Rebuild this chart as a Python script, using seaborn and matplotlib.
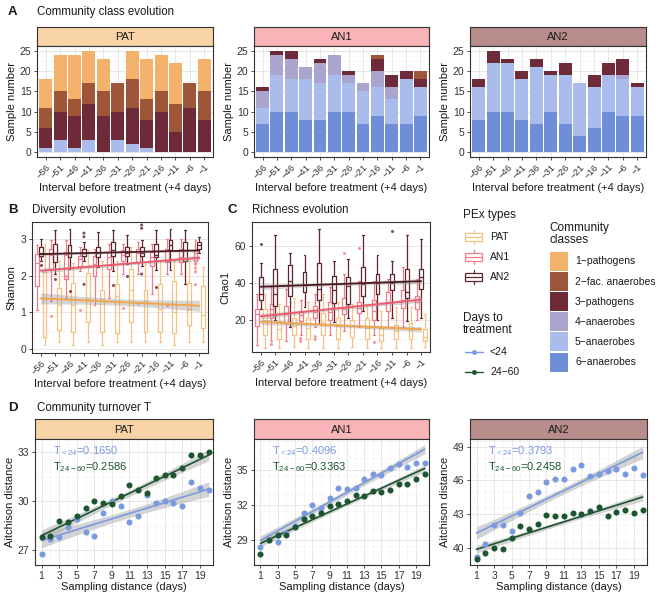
import numpy as np
import pandas as pd
import seaborn as sns
import matplotlib.pyplot as plt
from matplotlib.patches import Rectangle
from matplotlib.ticker import MultipleLocator

sns.set_style("white")
plt.rcParams['font.family'] = ['Liberation Sans', 'DejaVu Sans']
plt.rcParams['mathtext.default'] = 'regular'

# ---------------- data ----------------
intervals = [-56, -51, -46, -41, -36, -31, -26, -21, -16, -11, -6, -1]
interval_labels = ["\u2212" + str(abs(v)) for v in intervals]
pex_types = ['PAT', 'AN1', 'AN2']
classes = ['1\u2212pathogens', '2\u2212fac. anaerobes', '3\u2212pathogens',
           '4\u2212anaerobes', '5\u2212anaerobes', '6\u2212anaerobes']
class_colors = ['#F2B26B', '#9E5638', '#6E2A38', '#AAA5CF', '#A9BCEC', '#6E8ED8']

# sample counts per community class (rows = classes 1..6)
pat_counts = [[7, 9, 11, 8, 8, 0, 7, 10, 9, 10, 0, 8],
              [5, 5, 4, 5, 6, 7, 7, 5, 5, 7, 6, 7],
              [5, 7, 8, 9, 9, 7, 9, 7, 10, 5, 11, 8],
              [0, 0, 0, 0, 0, 0, 0, 0, 0, 0, 0, 0],
              [1, 3, 1, 3, 0, 3, 2, 1, 0, 0, 0, 0],
              [0, 0, 0, 0, 0, 0, 0, 0, 0, 0, 0, 0]]
an1_counts = [[0, 0, 0, 0, 0, 0, 0, 0, 0, 0, 0, 0],
              [0, 0, 0, 0, 0, 0, 0, 0, 1, 0, 0, 2],
              [1, 1, 2, 0, 1, 0, 1, 0, 3, 3, 2, 2],
              [4, 5, 5, 3, 5, 5, 2, 2, 4, 3, 0, 0],
              [4, 9, 8, 10, 9, 9, 7, 8, 7, 6, 11, 7],
              [7, 10, 10, 8, 8, 10, 10, 7, 9, 7, 7, 9]]
an2_counts = [[0, 0, 0, 0, 0, 0, 0, 0, 0, 0, 0, 0],
              [0, 0, 0, 0, 0, 0, 0, 0, 0, 0, 0, 0],
              [2, 3, 1, 2, 2, 1, 3, 0, 3, 3, 4, 1],
              [0, 0, 0, 0, 0, 0, 0, 0, 0, 0, 1, 0],
              [8, 12, 12, 10, 14, 9, 12, 13, 10, 9, 9, 7],
              [8, 10, 10, 8, 7, 10, 7, 4, 6, 10, 9, 9]]

# Shannon box stats: whisker low, q1, median, q3, whisker high
sh_an1 = [[1.07, 1.30, 1.40, 2.13, 1.21, 1.40, 2.05, 2.05, 1.49, 2.05, 2.05, 2.35],
          [1.72, 2.17, 1.90, 2.27, 1.99, 2.17, 2.40, 2.36, 2.27, 2.36, 2.36, 2.40],
          [2.35, 2.55, 2.55, 2.45, 2.30, 2.50, 2.55, 2.62, 2.50, 2.40, 2.50, 2.60],
          [2.59, 2.72, 2.63, 2.54, 2.54, 2.63, 2.68, 2.72, 2.63, 2.72, 2.72, 2.68],
          [2.82, 2.95, 2.95, 2.77, 2.72, 2.85, 2.85, 2.90, 2.85, 3.00, 3.00, 2.95]]
sh_an2 = [[2.40, 2.04, 2.17, 2.40, 2.22, 2.13, 2.31, 2.27, 2.15, 2.15, 1.76, 2.60],
          [2.54, 2.36, 2.50, 2.54, 2.50, 2.54, 2.54, 2.54, 2.50, 2.68, 2.40, 2.72],
          [2.60, 2.60, 2.62, 2.62, 2.60, 2.68, 2.62, 2.62, 2.55, 2.83, 2.68, 2.82],
          [2.77, 2.86, 2.82, 2.72, 2.77, 2.90, 2.77, 2.77, 2.86, 2.95, 2.90, 2.90],
          [3.00, 3.23, 3.27, 2.90, 3.18, 3.22, 3.09, 2.95, 3.22, 3.27, 3.22, 3.05]]
sh_pat = [[0.11, 0.20, 0.11, 0.20, 0.11, 0.20, 0.20, 0.20, 0.20, 0.11, 0.20, 0.20],
          [0.34, 0.52, 0.48, 0.75, 0.48, 0.44, 0.75, 0.48, 0.48, 0.44, 0.66, 0.57],
          [1.40, 1.20, 1.20, 1.35, 1.35, 1.45, 1.60, 1.30, 1.10, 1.00, 1.10, 0.92],
          [2.10, 1.67, 1.81, 2.08, 1.62, 1.76, 2.17, 1.62, 1.76, 1.86, 1.81, 1.72],
          [2.86, 2.40, 2.35, 2.70, 2.40, 2.40, 2.78, 2.30, 2.40, 2.40, 2.40, 2.23]]
sh_out_pex = ['AN2', 'AN2', 'AN2', 'AN2', 'AN2', 'AN2', 'AN2', 'AN2', 'AN2', 'AN2', 'AN2', 'AN2',
              'AN1', 'AN1', 'AN1', 'AN1', 'AN1', 'AN1', 'AN1', 'AN1', 'AN1', 'AN1']
sh_out_idx = [0, 1, 2, 3, 3, 3, 5, 6, 7, 7, 7, 8,
              1, 2, 3, 6, 7, 9, 11, 11, 11, 11]
sh_out_val = [2.29, 1.90, 1.58, 3.15, 3.05, 1.76, 1.74, 2.00, 3.37, 3.28, 2.04, 1.70,
              0.89, 2.00, 1.07, 1.12, 1.26, 1.20, 2.30, 2.20, 2.10, 1.75]
sh_trend = {'AN2': (2.58, 2.68, 0.04), 'AN1': (2.13, 2.48, 0.07), 'PAT': (1.38, 1.18, 0.15)}

# Chao1 box stats
ch_an1 = [[6.7, 8.5, 8.5, 12, 16, 12, 14, 16, 12, 16, 16, 20],
          [16.7, 21, 18.5, 19.5, 21, 20, 23, 24, 20, 25, 26.7, 25.8],
          [23.5, 25.8, 23.5, 22.7, 24.5, 24.5, 25.8, 26.7, 25, 30, 31, 30],
          [25.8, 28.5, 27.6, 25, 27.6, 30, 32, 30, 31, 35, 36, 33],
          [34, 37.6, 37, 31, 34, 37.6, 45, 41, 41, 42, 48.5, 42]]
ch_an2 = [[26, 20, 16, 27, 18, 19, 21, 25, 20, 21, 19.5, 21],
          [31, 27.6, 33, 35, 31, 29, 28.5, 33, 34, 36, 32, 36.7],
          [34, 34, 41, 39, 37, 36, 38.5, 39.5, 40, 40, 35, 43],
          [43, 47.6, 50, 46, 51, 44, 43, 48.5, 45, 45, 47.6, 47.6],
          [51, 66, 56, 55, 69, 52, 53, 66, 55, 52, 66, 64]]
ch_pat = [[5, 5, 5.5, 5, 5, 5, 5.5, 5, 5, 5, 5, 5.5],
          [12, 10, 12, 10, 12, 9.5, 11, 10, 8.5, 9.5, 10, 8.5],
          [20, 15, 16.7, 15.8, 19, 16.7, 16.7, 15.8, 12, 14, 15, 10.7],
          [25.8, 19.5, 21, 21, 24, 21, 20, 21, 15.8, 17.5, 18.5, 15],
          [34, 28.5, 32, 30, 34, 30, 28.5, 28.5, 25, 27, 27, 23]]
ch_out_pex = ['AN2', 'AN2', 'AN1', 'AN1', 'AN1', 'AN1', 'AN1', 'AN1', 'AN1', 'AN1']
ch_out_idx = [0, 9, 3, 3, 4, 4, 6, 7, 1, 8]
ch_out_val = [61, 68, 10, 8.5, 11, 9.5, 56.5, 59, 7, 8]
ch_trend = {'AN2': (38, 41, 1.5), 'AN1': (22, 31, 1.5), 'PAT': (19, 15, 1.5)}

# Community turnover: mean Aitchison distance by sampling distance
days = list(range(1, 21))
pat_lt24 = [26.8, 27.7, 27.8, 28.4, 28.9, 28.1, 27.9, 29.3, 30.0, 29.7,
            28.7, 29.1, 30.4, 29.9, 30.0, 29.9, 29.7, 31.2, 30.8, 30.7]
pat_24_60 = [27.8, 27.9, 28.8, 28.7, 29.1, 29.6, 30.0, 29.9, 29.8, 30.3,
             31.0, 30.7, 30.5, 31.4, 31.6, 31.6, 32.0, 32.8, 32.8, 33.0]
an1_lt24 = [28.4, 29.0, 28.9, 29.6, 30.2, 31.3, 32.0, 31.8, 32.6, 33.5,
            33.4, 33.5, 34.2, 34.7, 34.6, 35.2, 35.5, 35.3, 35.6, 35.6]
an1_24_60 = [27.8, 29.0, 29.5, 29.5, 30.1, 30.8, 31.1, 31.3, 31.9, 32.1,
             32.4, 32.9, 32.8, 33.2, 33.1, 33.3, 33.8, 33.8, 34.2, 34.7]
an2_lt24 = [39.2, 40.3, 42.0, 42.0, 41.5, 43.1, 44.6, 45.0, 45.9, 46.1,
            46.1, 47.0, 47.4, 46.4, 46.6, 46.8, 47.0, 46.6, 47.1, 46.5]
an2_24_60 = [39.0, 39.5, 40.0, 39.9, 40.9, 41.9, 41.7, 42.1, 42.9, 42.8,
             42.8, 43.1, 43.0, 43.3, 43.6, 42.8, 43.2, 43.4, 43.1, 43.4]
# turnover T (slope) and fitted value at day 1
t_lt24 = [0.1650, 0.4096, 0.3793]
t_24_60 = [0.2586, 0.3363, 0.2458]
fit0_lt24 = [27.6, 29.0, 41.3]
fit0_24_60 = [27.9, 28.75, 39.85]

# ---------------- style ----------------
W, H = 660, 594
fig = plt.figure(figsize=(6.6, 5.94), dpi=100)
strip_colors = {'PAT': '#F7D3A6', 'AN1': '#F9B4B7', 'AN2': '#B88C8B'}
box_pal = {'PAT': '#F5C283', 'AN1': '#F27B89', 'AN2': '#5E2730'}
line_pal = {'PAT': '#F2A447', 'AN1': '#F4566A', 'AN2': '#4A1820'}
c_lt24, c_24_60 = '#7A99DE', '#1C5530'
TXT = '#1A1A1A'


def add_px(x0, y0, x1, y1):
    return fig.add_axes([x0 / W, 1 - y1 / H, (x1 - x0) / W, (y1 - y0) / H])


def style_panel(ax):
    ax.set_facecolor('white')
    for s in ax.spines.values():
        s.set_visible(True)
        s.set_color('#333333')
        s.set_linewidth(0.8)
    ax.grid(True, which='major', color='#E3E3E3', lw=0.6)
    ax.grid(True, which='minor', color='#F0F0F0', lw=0.4)
    ax.set_axisbelow(True)
    ax.tick_params(which='major', length=2.5, width=0.6, color='#333333',
                   labelsize=7.5, labelcolor='#333333', pad=1.5,
                   left=True, bottom=True)
    ax.tick_params(which='minor', length=0)


def add_strip(x0, x1, y0, y1, label):
    s = add_px(x0, y0, x1, y1)
    s.set_facecolor(strip_colors[label])
    s.set_xticks([])
    s.set_yticks([])
    for sp in s.spines.values():
        sp.set_visible(True)
        sp.set_color('#333333')
        sp.set_linewidth(0.8)
    s.text(0.5, 0.45, label, ha='center', va='center', fontsize=8, color=TXT,
           transform=s.transAxes)


def cat_xaxis(ax):
    ax.set_xlim(-0.6, len(intervals) - 0.4)
    ax.set_xticks(range(len(intervals)))
    ax.set_xticklabels(interval_labels, rotation=45, ha='right',
                       rotation_mode='anchor', fontsize=6.8)
    ax.set_xlabel('Interval before treatment (+4 days)', fontsize=8,
                  color=TXT, labelpad=2)


def panel_title(x, y, letter, tx, title):
    fig.text(x / W, 1 - y / H, letter, fontsize=9.5, fontweight='bold',
             color=TXT, va='center')
    fig.text(tx / W, 1 - y / H, title, fontsize=8.3, color=TXT, va='center')


# ---------------- A: community class evolution ----------------
panel_title(8, 12, 'A', 37, 'Community class evolution')
a_x = [(37, 213), (254, 429), (470, 646)]
for pex, counts, (x0, x1) in zip(pex_types, [pat_counts, an1_counts, an2_counts], a_x):
    rows = []
    for j, lab in enumerate(interval_labels):
        for k, cls in enumerate(classes):
            rows.append({'interval': lab, 'cls': cls, 'count': counts[k][j]})
    df = pd.DataFrame(rows)
    add_strip(x0, x1, 27, 46, pex)
    ax = add_px(x0, 46, x1, 157)
    style_panel(ax)
    sns.histplot(data=df, x='interval', weights='count', hue='cls',
                 hue_order=classes, palette=dict(zip(classes, class_colors)),
                 multiple='stack', discrete=True, shrink=0.9, alpha=1,
                 linewidth=0, legend=False, ax=ax)
    cat_xaxis(ax)
    ax.set_ylim(-1.25, 26.25)
    ax.set_yticks([0, 5, 10, 15, 20, 25])
    ax.yaxis.set_minor_locator(MultipleLocator(2.5))
    ax.set_ylabel('Sample number', fontsize=8, color=TXT, labelpad=2)
    ax.grid(False, axis='x', which='minor')


# ---------------- B / C: diversity and richness ----------------
def box_panel(ax, stats, out_pex, out_idx, out_val, trend):
    rows = []
    for pex, st in stats.items():
        for j, lab in enumerate(interval_labels):
            for r in range(5):
                rows.append({'interval': lab, 'pex': pex, 'value': st[r][j]})
    df = pd.DataFrame(rows)
    hue_order = ['AN1', 'AN2', 'PAT']
    sns.boxplot(data=df, x='interval', y='value', hue='pex', order=interval_labels,
                hue_order=hue_order, palette=box_pal, fill=False, whis=(0, 100),
                width=0.8, linewidth=0.9, showfliers=False, legend=False, ax=ax)
    outs = pd.DataFrame({'interval': [interval_labels[i] for i in out_idx],
                         'pex': out_pex, 'value': out_val})
    sns.stripplot(data=outs, x='interval', y='value', hue='pex', order=interval_labels,
                  hue_order=hue_order, palette=box_pal, dodge=True, jitter=False,
                  size=2.2, alpha=0.8, legend=False, ax=ax)
    xg = np.linspace(0, len(intervals) - 1, 60)
    t = (xg - xg.mean()) / (xg.max() - xg.mean())
    for pex in ['PAT', 'AN1', 'AN2']:
        y0, y1, hw = trend[pex]
        yg = y0 + (y1 - y0) * xg / xg.max()
        band = hw * np.sqrt(0.35 + 0.65 * t ** 2)
        ax.fill_between(xg, yg - band, yg + band, color='#999999', alpha=0.4,
                        lw=0, zorder=3)
        ax.plot(xg, yg, color=line_pal[pex], lw=1.3, zorder=4)
    cat_xaxis(ax)


panel_title(8, 210, 'B', 32, 'Diversity evolution')
ax_b = add_px(32, 222, 208, 353)
style_panel(ax_b)
box_panel(ax_b, {'AN1': sh_an1, 'AN2': sh_an2, 'PAT': sh_pat},
          sh_out_pex, sh_out_idx, sh_out_val, sh_trend)
ax_b.set_ylim(-0.1, 3.45)
ax_b.set_yticks([0, 1, 2, 3])
ax_b.yaxis.set_minor_locator(MultipleLocator(0.5))
ax_b.set_ylabel('Shannon', fontsize=8, color=TXT, labelpad=3)

panel_title(228, 210, 'C', 252, 'Richness evolution')
ax_c = add_px(252, 222, 430, 352)
style_panel(ax_c)
box_panel(ax_c, {'AN1': ch_an1, 'AN2': ch_an2, 'PAT': ch_pat},
          ch_out_pex, ch_out_idx, ch_out_val, ch_trend)
ax_c.set_ylim(2.7, 73)
ax_c.set_yticks([20, 40, 60])
ax_c.yaxis.set_minor_locator(MultipleLocator(10))
ax_c.set_ylabel('Chao1', fontsize=8, color=TXT, labelpad=3)

# ---------------- legends ----------------
lg = fig.add_axes([0, 0, 1, 1])
lg.set_xlim(0, W)
lg.set_ylim(H, 0)
lg.axis('off')
lg.patch.set_alpha(0)

lg.text(463, 215, 'PEx types', fontsize=8.5, color=TXT, va='center')
for i, pex in enumerate(pex_types):
    yc = 237 + 20 * i
    col = box_pal[pex]
    lg.add_patch(Rectangle((465, yc - 4), 17, 8, fill=False, ec=col, lw=0.9))
    lg.plot([465, 482], [yc, yc], color=col, lw=0.9)
    lg.plot([473.5, 473.5], [yc - 7, yc - 4], color=col, lw=0.9)
    lg.plot([473.5, 473.5], [yc + 4, yc + 7], color=col, lw=0.9)
    lg.text(490, yc, pex, fontsize=7.5, color=TXT, va='center')

lg.text(463, 324, 'Days to\ntreatment', fontsize=8.5, color=TXT, va='center',
        linespacing=1.0)
for i, (lab, col) in enumerate([('<24', c_lt24), ('24\u221260', c_24_60)]):
    yc = 352 + 20 * i
    lg.plot([465, 483], [yc, yc], color=col, lw=1.0)
    lg.plot([474], [yc], 'o', color=col, ms=2.5)
    lg.text(490, yc, lab, fontsize=7.5, color=TXT, va='center')

lg.text(549, 234, 'Community\nclasses', fontsize=8.5, color=TXT, va='center',
        linespacing=1.0)
for i, (cls, col) in enumerate(zip(classes, class_colors)):
    y0 = 252 + 20.1 * i
    lg.add_patch(Rectangle((550, y0), 18, 19, color=col, lw=0))
    lg.text(575, y0 + 9.5, cls, fontsize=7.5, color=TXT, va='center')

# ---------------- D: community turnover ----------------
panel_title(8, 408, 'D', 37, 'Community turnover T')
d_x = [(35, 213), (254, 429), (470, 647)]
d_ylim = [(26.1, 33.8), (26.9, 37.65), (38.45, 49.7)]
d_ticks = [[27, 30, 33], [29, 32, 35], [40, 43, 46, 49]]
lt24_series = [pat_lt24, an1_lt24, an2_lt24]
g_series = [pat_24_60, an1_24_60, an2_24_60]
band_hw = [(0.45, 0.35), (0.4, 0.3), (0.55, 0.35)]
for i, pex in enumerate(pex_types):
    x0, x1 = d_x[i]
    add_strip(x0, x1, 419, 439, pex)
    ax = add_px(x0, 439, x1, 565)
    style_panel(ax)
    dg = np.linspace(days[0], days[-1], 60)
    tt = (dg - dg.mean()) / (dg.max() - dg.mean())
    for fit0, slope, col, hw in [(fit0_lt24[i], t_lt24[i], c_lt24, band_hw[i][0]),
                                 (fit0_24_60[i], t_24_60[i], c_24_60, band_hw[i][1])]:
        yg = fit0 + slope * (dg - days[0])
        band = hw * np.sqrt(0.3 + 0.7 * tt ** 2)
        ax.fill_between(dg, yg - band, yg + band, color='#A0A0A0', alpha=0.45,
                        lw=0, zorder=2)
        ax.plot(dg, yg, color=col, lw=1.2, zorder=3)
    sns.scatterplot(x=days, y=lt24_series[i], color=c_lt24, s=19, linewidth=0,
                    zorder=4, ax=ax)
    sns.scatterplot(x=days, y=g_series[i], color=c_24_60, s=19, linewidth=0,
                    zorder=4, ax=ax)
    ax.set_xlim(0.25, 20.5)
    ax.set_xticks(list(range(1, 21, 2)))
    ax.xaxis.set_minor_locator(MultipleLocator(1))
    ax.set_ylim(*d_ylim[i])
    ax.set_yticks(d_ticks[i])
    ax.yaxis.set_minor_locator(MultipleLocator(1.5))
    ax.set_xlabel('Sampling distance (days)', fontsize=8, color=TXT, labelpad=1)
    ax.set_ylabel('Aitchison distance', fontsize=8, color=TXT, labelpad=2)
    ax.text(0.1, 0.9, 'T$_{<24}$=%.4f' % t_lt24[i], color=c_lt24, fontsize=8,
            va='center', transform=ax.transAxes)
    ax.text(0.1, 0.78, 'T$_{24-60}$=%.4f' % t_24_60[i], color=c_24_60,
            fontsize=8, va='center', transform=ax.transAxes)

fig.savefig('out.png', dpi=100)
